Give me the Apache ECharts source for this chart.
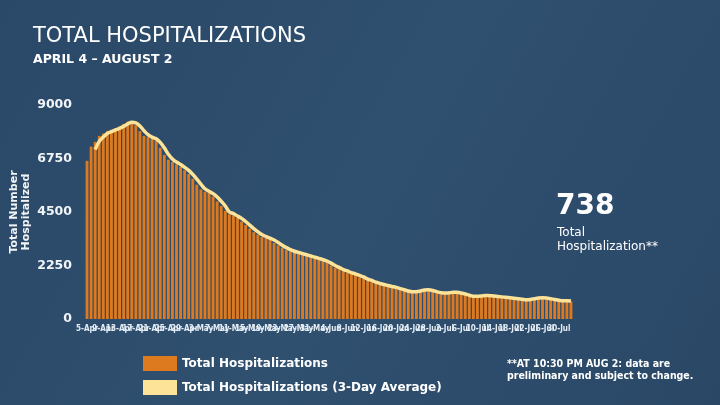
<!DOCTYPE html>
<html>
<head>
<meta charset="utf-8">
<script src="https://cdn.jsdelivr.net/npm/echarts@6/dist/echarts.min.js"></script>
<style>
html,body{margin:0;padding:0;background:#2c4a6a;}
#c{width:720px;height:405px;}
</style>
</head>
<body>
<div id="c"></div>
<script>
// Dates: April 5 – August 2 (daily)
const startLabel = [2020, 3, 5];
const months = ['Jan','Feb','Mar','Apr','May','Jun','Jul','Aug','Sep','Oct','Nov','Dec'];

const dailyHosp = [
  6650, 7250, 7450, 7700, 7800, 7900, 7950, 8000, 8100, 8200,
  8300, 8300, 8150, 7900, 7700, 7650, 7600, 7500, 7200, 6900,
  6700, 6600, 6500, 6400, 6250, 6100, 5900, 5650, 5450, 5350,
  5300, 5150, 4950, 4750, 4550, 4400, 4350, 4250, 4100, 3950,
  3800, 3650, 3550, 3450, 3400, 3350, 3200, 3100, 3000, 2900,
  2850, 2800, 2750, 2700, 2650, 2600, 2550, 2500, 2450, 2350,
  2250, 2150, 2100, 2000, 1950, 1900, 1850, 1750, 1700, 1600,
  1550, 1500, 1450, 1400, 1380, 1330, 1280, 1230, 1180, 1130,
  1130, 1180, 1230, 1250, 1200, 1150, 1100, 1080, 1100, 1120,
  1130, 1100, 1050, 1000, 950, 940, 980, 1000, 990, 960,
  950, 940, 920, 900, 880, 870, 840, 800, 800, 850,
  900, 900, 880, 850, 810, 780, 760, 760, 790, 738
];

const avg3Day = [
  null, null, 7120, 7470, 7650, 7800, 7880, 7950, 8020, 8100,
  8200, 8270, 8250, 8120, 7920, 7750, 7650, 7580, 7430, 7200,
  6930, 6730, 6600, 6500, 6380, 6250, 6080, 5880, 5670, 5480,
  5370, 5270, 5130, 4950, 4750, 4500, 4430, 4330, 4230, 4100,
  3950, 3800, 3670, 3550, 3470, 3400, 3320, 3220, 3100, 3000,
  2920, 2850, 2800, 2750, 2700, 2650, 2600, 2550, 2500, 2430,
  2350, 2250, 2170, 2080, 2020, 1950, 1900, 1830, 1770, 1680,
  1620, 1550, 1500, 1450, 1410, 1370, 1330, 1280, 1230, 1180,
  1150, 1150, 1180, 1220, 1230, 1200, 1150, 1110, 1090, 1100,
  1120, 1120, 1090, 1050, 1000, 960, 960, 970, 990, 980,
  970, 950, 930, 910, 890, 870, 850, 830, 810, 820,
  850, 880, 890, 880, 850, 820, 790, 770, 770, 760
];

const yTicks = [0, 2250, 4500, 6750, 9000];
const labelEvery = 4;

const categories = [];
(function(){
  const d = new Date(startLabel[0], startLabel[1], startLabel[2]);
  for (let i = 0; i < dailyHosp.length; i++) {
    categories.push(d.getDate() + '-' + months[d.getMonth()]);
    d.setDate(d.getDate() + 1);
  }
})();

const chart = echarts.init(document.getElementById('c'));
const font = '"DejaVu Sans", Verdana, sans-serif';
const cfont = '"DejaVu Sans Condensed", "DejaVu Sans", sans-serif';
chart.setOption({
  backgroundColor: {
    type: 'linear', x: 0, y: 0, x2: 1, y2: 1,
    colorStops: [
      {offset: 0, color: '#2a4868'},
      {offset: 0.5, color: '#30506f'},
      {offset: 1, color: '#2a4766'}
    ]
  },
  animation: false,
  textStyle: {fontFamily: font},
  grid: {left: 85, right: 147, top: 105, bottom: 86, containLabel: false, outerBoundsMode: 'none'},
  legend: {
    orient: 'vertical',
    left: 138, top: 351,
    itemWidth: 34, itemHeight: 15, itemGap: 9,
    textStyle: {color: '#ffffff', fontSize: 12, fontWeight: 'bold', fontFamily: font},
    data: [
      {name: 'Total Hospitalizations', icon: 'rect', itemStyle: {color: '#dd7a1f'}},
      {name: 'Total Hospitalizations (3-Day Average)', icon: 'rect', itemStyle: {color: '#fde398'}}
    ]
  },
  xAxis: {
    type: 'category',
    data: categories,
    axisLine: {show: false},
    axisTick: {show: false},
    axisLabel: {
      interval: 0, hideOverlap: false,
      formatter: function (v, i) { return i % labelEvery === 0 ? v : ''; },
      color: '#e4ecf4', fontSize: 8, fontWeight: 'bold',
      margin: 6, fontFamily: cfont
    }
  },
  yAxis: {
    type: 'value',
    min: 0, max: 9000, interval: 2250,
    splitLine: {show: false},
    axisLabel: {
      color: '#f2f5f8', fontSize: 12.5, fontWeight: 'bold', margin: 13, fontFamily: font,
      formatter: function (v) { return String(v); }
    },
    name: 'Total Number\nHospitalized',
    nameLocation: 'middle',
    nameGap: 53,
    nameMoveOverlap: false,
    nameTextStyle: {color: '#f2f5f8', fontSize: 11, fontWeight: 'bold', lineHeight: 12, fontFamily: font}
  },
  series: [
    {
      name: 'Total Hospitalizations',
      type: 'bar',
      data: dailyHosp,
      barCategoryGap: '30%',
      itemStyle: {color: '#dd7a1f'},
      z: 2
    },
    {
      name: 'Total Hospitalizations (3-Day Average)',
      type: 'line',
      data: avg3Day,
      smooth: 0.4,
      showSymbol: false,
      lineStyle: {color: '#fde398', width: 3.5},
      itemStyle: {color: '#fde398'},
      z: 3
    }
  ],
  graphic: [
    {type: 'text', left: 33, top: 26, style: {text: 'TOTAL HOSPITALIZATIONS', fill: '#ffffff', font: '21px ' + font}},
    {type: 'text', left: 33, top: 53, style: {text: 'APRIL 4 – AUGUST 2', fill: '#ffffff', font: 'bold 12.5px ' + font}},
    {type: 'text', left: 556, top: 193, style: {text: '738', fill: '#ffffff', font: 'bold 28px ' + font}},
    {type: 'text', left: 557, top: 226, style: {text: 'Total\nHospitalization**', fill: '#ffffff', font: '12px ' + font, lineHeight: 14}},
    {type: 'text', left: 507, top: 358, style: {text: '**AT 10:30 PM AUG 2: data are\npreliminary and subject to change.', fill: '#ffffff', font: 'bold 10.5px ' + cfont, lineHeight: 12}}
  ]
});
</script>
</body>
</html>
